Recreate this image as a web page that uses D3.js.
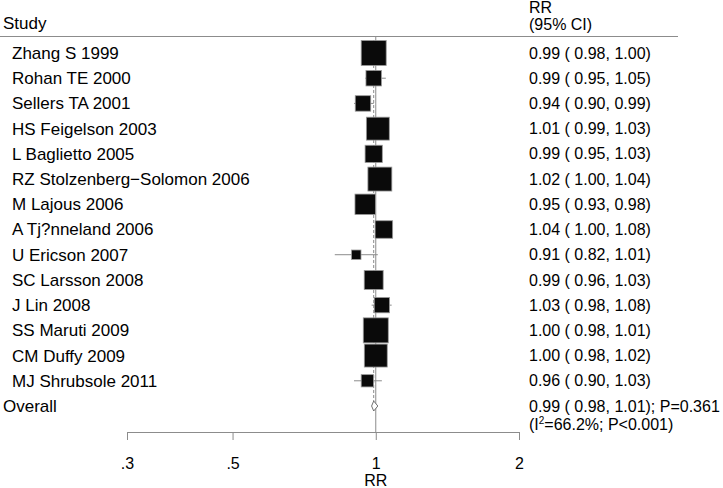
<!DOCTYPE html>
<html>
<head>
<meta charset="utf-8">
<script src="https://cdn.jsdelivr.net/npm/d3@7"></script>
<style>
  body { margin: 0; background: #fff; }
  svg { display: block; font-family: "Liberation Sans", Arial, Helvetica, sans-serif; }
</style>
</head>
<body>
<svg id="chart" width="723" height="488"></svg>
<script>
const studies = ["Zhang S 1999","Rohan TE 2000","Sellers TA 2001","HS Feigelson 2003","L Baglietto 2005","RZ Stolzenberg\u2212Solomon 2006","M Lajous 2006","A Tj?nneland 2006","U Ericson 2007","SC Larsson 2008","J Lin 2008","SS Maruti 2009","CM Duffy 2009","MJ Shrubsole 2011"];
const rr    = [0.99, 0.99, 0.94, 1.01, 0.99, 1.02, 0.95, 1.04, 0.91, 0.99, 1.03, 1.00, 1.00, 0.96];
const lower = [0.98, 0.95, 0.90, 0.99, 0.95, 1.00, 0.93, 1.00, 0.82, 0.96, 0.98, 0.98, 0.98, 0.90];
const upper = [1.00, 1.05, 0.99, 1.03, 1.03, 1.04, 0.98, 1.08, 1.01, 1.03, 1.08, 1.01, 1.02, 1.03];
const weights = [12.0, 4.6, 4.6, 10.1, 5.7, 11.0, 8.0, 5.9, 1.7, 6.9, 4.5, 12.0, 10.1, 2.9];
const overall = {label: "Overall", rr: 0.99, lower: 0.98, upper: 1.01, p: "0.361", i2: "66.2%", pHet: "P<0.001"};
const ticks = [0.3, 0.5, 1, 2];
const tickLabels = [".3", ".5", "1", "2"];
const xTitle = "RR";

const svg = d3.select("#chart");
const fmt = d3.format(".2f");
const rows = studies.concat([overall.label]);
const FS = 16;      // right column
const FL = 17;      // left labels
const FA = 16;      // axis
const colX = 529;

const x = d3.scaleLog().domain([0.3, 2]).range([127, 519]);
const y = d3.scalePoint().domain(rows).range([53, 406]);
const side = d3.scaleSqrt().domain([0, d3.max(weights)]).range([0, 25]);

const axisY = 432;
const grey = "#8c8c8c";

// headers
svg.append("text").attr("x", 3).attr("y", 29).attr("font-size", FL).text("Study");
svg.append("text").attr("x", colX).attr("y", 13).attr("font-size", FS).text("RR");
svg.append("text").attr("x", colX).attr("y", 30).attr("font-size", FS).text("(95% CI)");
svg.append("line").attr("x1", 0).attr("x2", 678).attr("y1", 36.5).attr("y2", 36.5)
  .attr("stroke", grey).attr("stroke-width", 1);

// null line at 1
svg.append("line").attr("x1", x(1)).attr("x2", x(1)).attr("y1", 36.5).attr("y2", axisY)
  .attr("stroke", grey).attr("stroke-width", 1);

// overall dashed line
svg.append("line").attr("x1", x(overall.rr)).attr("x2", x(overall.rr))
  .attr("y1", 40).attr("y2", y(overall.label) - 5)
  .attr("stroke", grey).attr("stroke-width", 1).attr("stroke-dasharray", "3,2");

const data = studies.map((s, i) => ({s, rr: rr[i], lo: lower[i], hi: upper[i], w: weights[i]}));

// CI lines
svg.selectAll(".ci").data(data).enter().append("line")
  .attr("x1", d => x(d.lo)).attr("x2", d => x(d.hi))
  .attr("y1", d => y(d.s)).attr("y2", d => y(d.s))
  .attr("stroke", grey).attr("stroke-width", 1);

// boxes
svg.selectAll(".box").data(data).enter().append("rect")
  .attr("x", d => x(d.rr) - side(d.w) / 2)
  .attr("y", d => y(d.s) - side(d.w) / 2)
  .attr("width", d => side(d.w)).attr("height", d => side(d.w))
  .attr("fill", "#0a0a0a").attr("stroke", "#9a9a9a").attr("stroke-width", 0.8);

// study labels
svg.selectAll(".lab").data(data).enter().append("text")
  .attr("x", 12).attr("y", d => y(d.s)).attr("dy", "0.35em")
  .attr("font-size", FL).text(d => d.s);

// estimate text
svg.selectAll(".est").data(data).enter().append("text")
  .attr("x", colX).attr("y", d => y(d.s)).attr("dy", "0.35em")
  .attr("font-size", FS)
  .text(d => `${fmt(d.rr)} ( ${fmt(d.lo)}, ${fmt(d.hi)})`);

// overall
const oy = y(overall.label);
svg.append("text").attr("x", 3).attr("y", oy).attr("dy", "0.35em").attr("font-size", FL).text(overall.label);
svg.append("path")
  .attr("d", `M${x(overall.lower)},${oy} L${x(overall.rr)},${oy - 5} L${x(overall.upper)},${oy} L${x(overall.rr)},${oy + 5} Z`)
  .attr("fill", "white").attr("stroke", "#707070").attr("stroke-width", 1);
svg.append("text").attr("x", colX).attr("y", oy).attr("dy", "0.35em").attr("font-size", FS)
  .text(`${fmt(overall.rr)} ( ${fmt(overall.lower)}, ${fmt(overall.upper)}); P=${overall.p}`);
const t2 = svg.append("text").attr("x", colX).attr("y", oy + 18).attr("dy", "0.35em").attr("font-size", FS);
t2.append("tspan").text("(I");
t2.append("tspan").attr("font-size", 10).attr("dy", "-0.6em").text("2");
t2.append("tspan").attr("dy", "0.4em").text(`=${overall.i2}; ${overall.pHet})`);

// axis
const axis = d3.axisBottom(x).tickValues(ticks)
  .tickFormat((d, i) => tickLabels[i]).tickSize(8).tickPadding(18).tickSizeOuter(0);
const g = svg.append("g").attr("transform", `translate(0,${axisY})`).call(axis);
g.select(".domain").attr("stroke", grey);
g.selectAll(".tick line").attr("stroke", grey);
g.selectAll(".tick text").attr("font-size", FA).attr("fill", "#000")
  .attr("font-family", "Liberation Sans, Arial, sans-serif");
svg.append("text").attr("x", x(1)).attr("y", 486).attr("text-anchor", "middle")
  .attr("font-size", FA).text(xTitle);
</script>
</body>
</html>
